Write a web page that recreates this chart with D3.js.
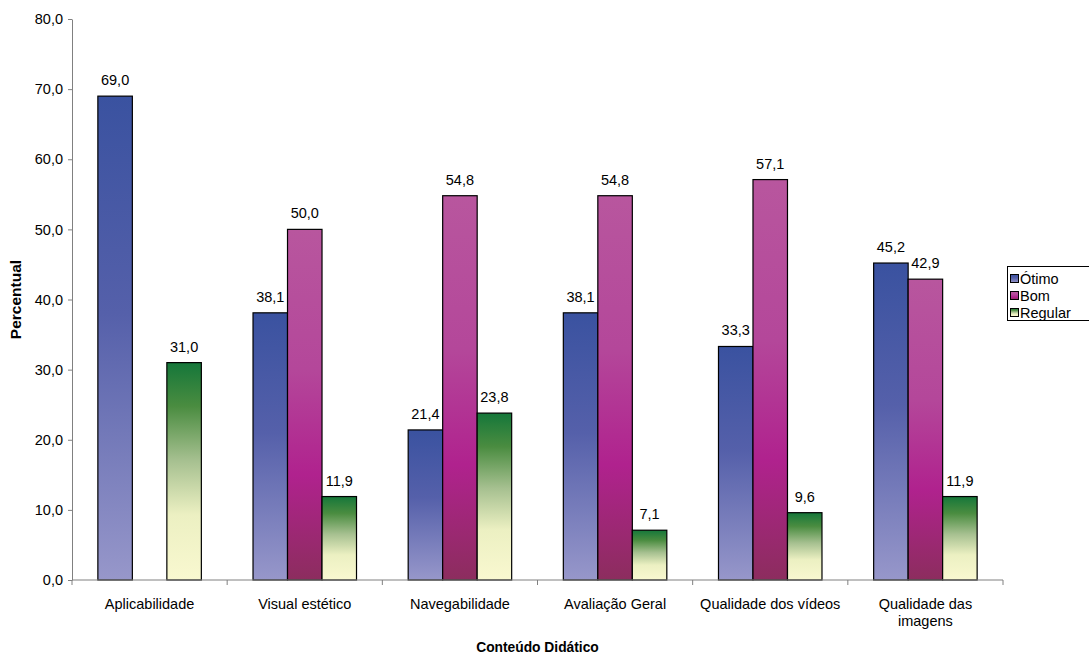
<!DOCTYPE html>
<html><head><meta charset="utf-8">
<script src="https://cdn.jsdelivr.net/npm/d3@7"></script>
<style>body{margin:0;background:#fff;}svg{display:block;font-family:"Liberation Sans",Arial,sans-serif;}</style>
</head><body><svg id="c" width="1089" height="655"></svg>
<script>
const categories = ["Aplicabilidade","Visual estético","Navegabilidade","Avaliação Geral","Qualidade dos vídeos","Qualidade das imagens"];
const seriesNames = ["Ótimo","Bom","Regular"];
const otimo = [69.0,38.1,21.4,38.1,33.3,45.2];
const bom = [null,50.0,54.8,54.8,57.1,42.9];
const regular = [31.0,11.9,23.8,7.1,9.6,11.9];
const yTicks = [0,10,20,30,40,50,60,70,80];

const svg = d3.select("#c");
const m = {l:72, r:86, t:19, b:75};
const W = 1089, H = 655;
const FS = 14.5;
const x0 = d3.scaleBand().domain(categories).range([m.l, W-m.r]).paddingInner(0.333).paddingOuter(0.1667);
const xOuter = d3.scaleBand().domain(categories).range([m.l, W-m.r]);
const x1 = d3.scaleBand().domain(seriesNames).range([0, x0.bandwidth()]);
const y = d3.scaleLinear().domain([0,80]).range([H-m.b, m.t]);

const defs = svg.append("defs");
const grads = {
  "Ótimo":[["0%","#3a52a0"],["45%","#5560aa"],["100%","#9797ca"]],
  "Bom":[["0%","#b8569e"],["40%","#b4479a"],["70%","#b0228e"],["100%","#8c2d5e"]],
  "Regular":[["0%","#15773a"],["20%","#4a8c40"],["45%","#a6c090"],["70%","#ecf0c2"],["100%","#f9f8d0"]]
};
seriesNames.forEach((s,i)=>{
  const g = defs.append("linearGradient").attr("id","g"+i).attr("x1",0).attr("y1",0).attr("x2",0).attr("y2",1);
  grads[s].forEach(([o,c])=>g.append("stop").attr("offset",o).attr("stop-color",c));
});

const fmt = v => v.toFixed(1).replace(".",",");
const data = [otimo,bom,regular];

// y axis
const ya = svg.append("g").attr("transform",`translate(${m.l},0)`)
  .call(d3.axisLeft(y).tickValues(yTicks).tickFormat(fmt).tickSize(4).tickSizeOuter(0));
ya.select(".domain").attr("stroke","#808080");
ya.selectAll(".tick line").attr("stroke","#808080");
ya.selectAll("text").attr("font-size",FS).attr("fill","#000").attr("font-family","Liberation Sans, Arial, sans-serif").attr("x",-9);

// bars
categories.forEach((c,ci)=>{
  seriesNames.forEach((s,si)=>{
    const v = data[si][ci];
    if(v==null) return;
    const bx = x0(c)+x1(s);
    svg.append("rect").attr("x",bx).attr("y",y(v)).attr("width",x1.bandwidth()).attr("height",y(0)-y(v))
      .attr("fill",`url(#g${si})`).attr("stroke","#000").attr("stroke-width",1.2);
    svg.append("text").attr("x",bx+x1.bandwidth()/2).attr("y",y(v)-11).attr("text-anchor","middle")
      .attr("font-size",FS).text(fmt(v));
  });
});

// x axis
const xa = svg.append("g").attr("transform",`translate(0,${y(0)})`);
xa.append("line").attr("x1",m.l).attr("x2",W-m.r).attr("stroke","#808080");
const bounds = categories.map(c=>xOuter(c)).concat([W-m.r]);
bounds.forEach(b=>xa.append("line").attr("x1",b).attr("x2",b).attr("y1",0).attr("y2",5).attr("stroke","#808080"));
categories.forEach(c=>{
  const cx = xOuter(c)+xOuter.bandwidth()/2;
  const lines = c==="Qualidade das imagens" ? ["Qualidade das","imagens"] : [c];
  lines.forEach((t,i)=>xa.append("text").attr("x",cx).attr("y",29+i*17).attr("text-anchor","middle").attr("font-size",FS).text(t));
});

// titles
svg.append("text").attr("x",(m.l+W-m.r)/2).attr("y",652).attr("text-anchor","middle").attr("font-size",13.8).attr("font-weight","bold").text("Conteúdo Didático");
svg.append("text").attr("transform",`translate(21,${(y(0)+y(80))/2}) rotate(-90)`).attr("text-anchor","middle").attr("font-size",15.5).attr("font-weight","bold").text("Percentual");

// legend
const lg = svg.append("g");
lg.append("rect").attr("x",1007.5).attr("y",266.5).attr("width",90).attr("height",54).attr("fill","#fff").attr("stroke","#000");
seriesNames.forEach((s,i)=>{
  const yy = 279+i*17;
  lg.append("rect").attr("x",1010.5).attr("y",yy-4.5).attr("width",8).attr("height",8).attr("fill",`url(#g${i})`).attr("stroke","#000");
  lg.append("text").attr("x",1020).attr("y",yy+5).attr("font-size",FS).text(s);
});
</script></body></html>
